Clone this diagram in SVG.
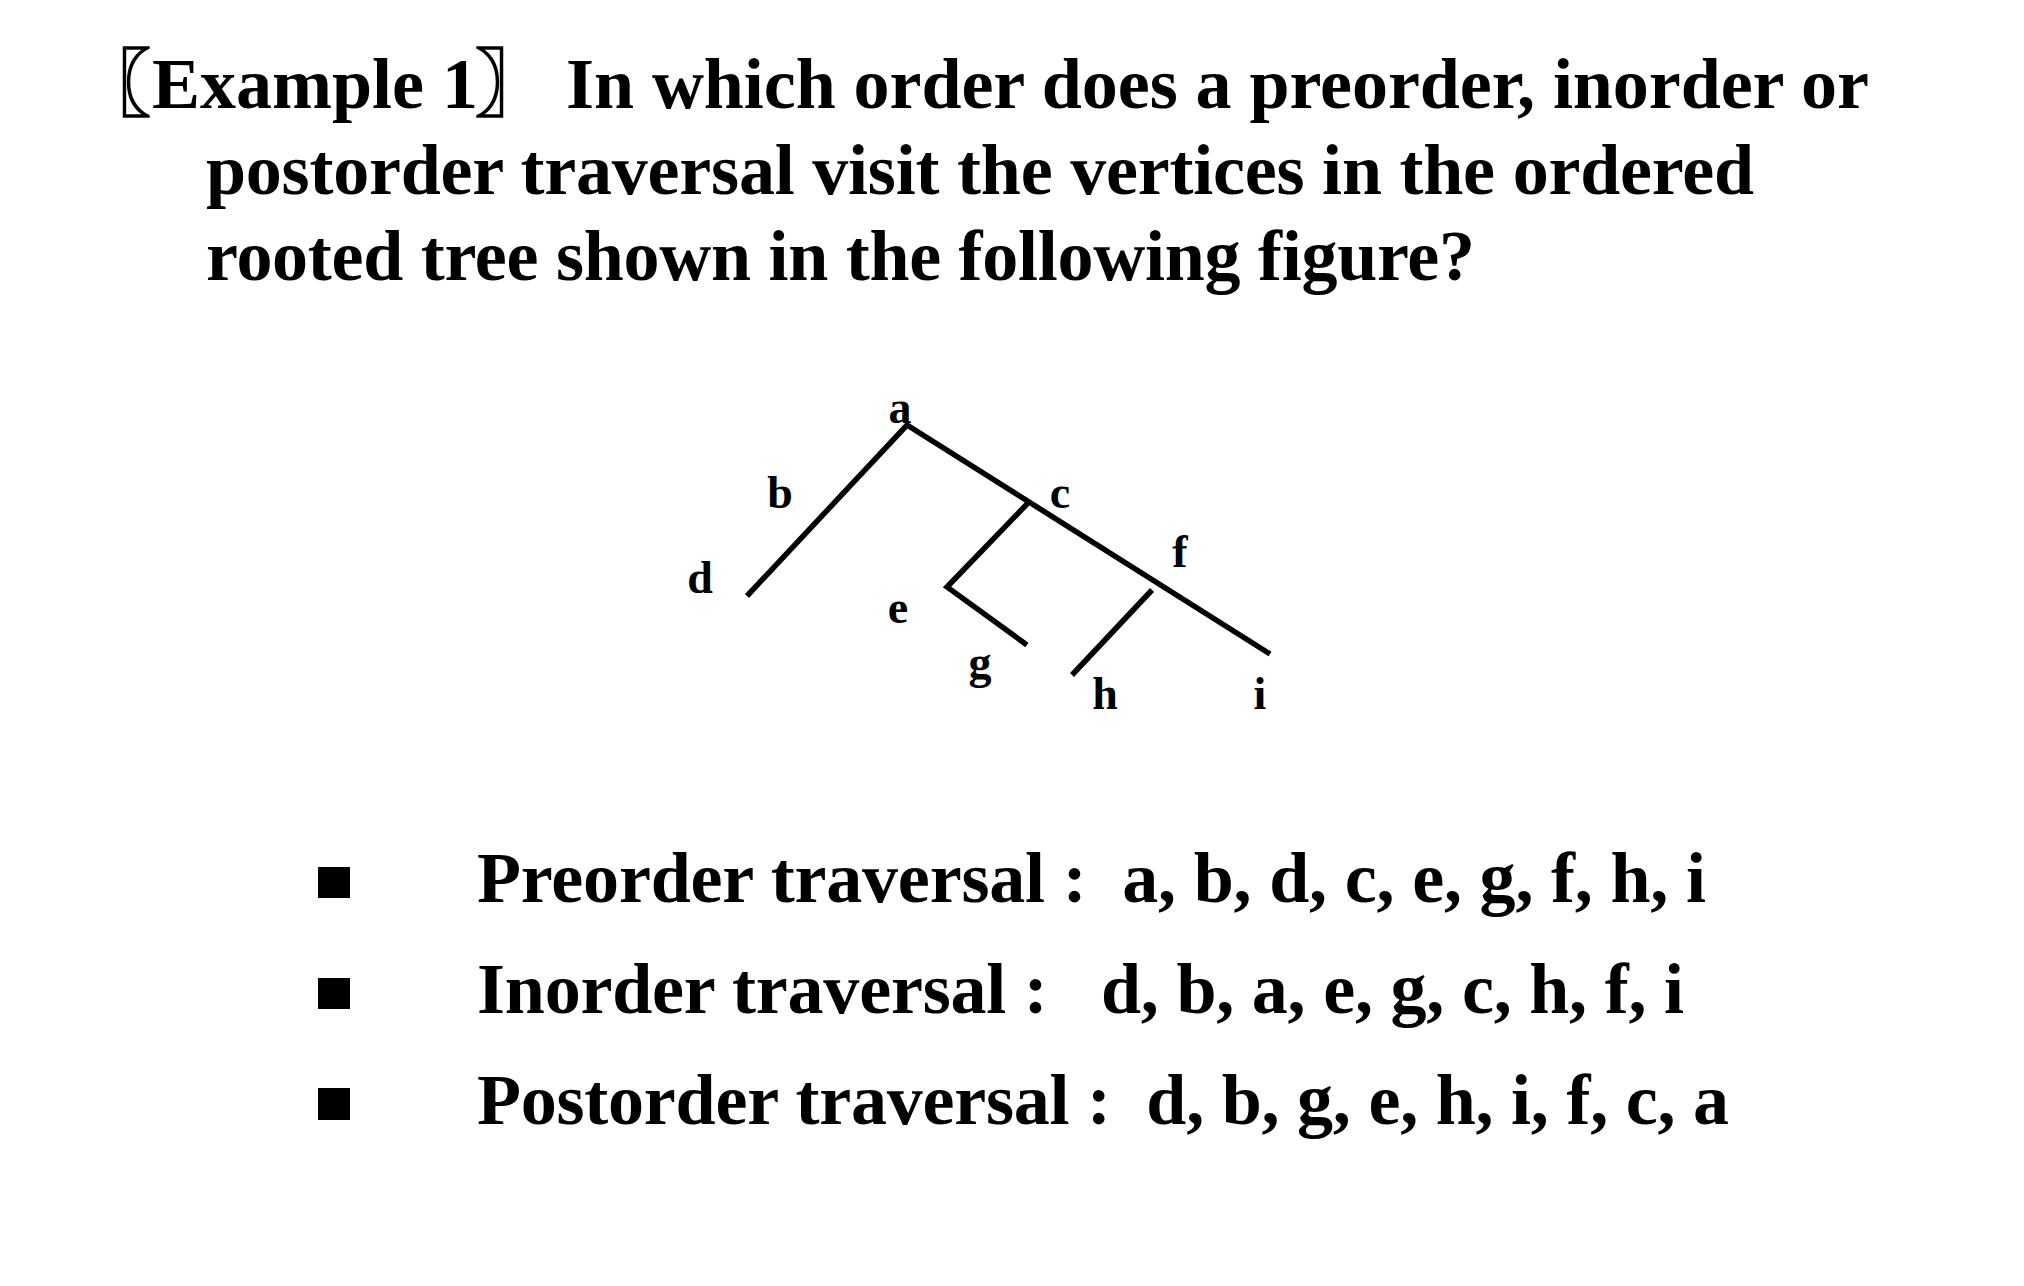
<svg xmlns="http://www.w3.org/2000/svg" width="2024" height="1286" viewBox="0 0 2024 1286">
<style>
  .t { font-family: "Liberation Serif", "Times New Roman", "Noto Sans CJK SC", serif; font-weight: bold; fill: #000; }
  .title { font-size: 72px; }
  .br { font-family: "Noto Sans CJK SC", "Noto Sans CJK JP", serif; font-size: 74px; font-weight: bold; fill: #000; stroke: #000; stroke-width: 1.6; }
  .list { font-size: 72px; }
  .lbl { font-size: 46px; text-anchor: middle; }
  .edge { fill: none; stroke: #000; stroke-width: 5.5; stroke-linecap: butt; stroke-linejoin: miter; }
</style>
<rect width="2024" height="1286" fill="#fff"/>

<g id="title">
  <text class="br" x="77" y="110">〖</text>
  <text class="t title" x="152" y="108">Example 1</text>
  <text class="br" x="475" y="110">〗</text>
  <text class="t title" x="566" y="108" textLength="1303">In which order does a preorder, inorder or</text>
  <text class="t title" x="206" y="194" textLength="1548">postorder traversal visit the vertices in the ordered</text>
  <text class="t title" x="206" y="280" textLength="1269">rooted tree shown in the following figure?</text>
</g>

<g id="connectors">
  <polyline class="edge" points="747,596 907,425 1270,654"/>
  <polyline class="edge" points="1028,503 947,587 1027,645"/>
  <line class="edge" x1="1152" y1="590" x2="1072" y2="675"/>
</g>

<g id="node-a"><text class="t lbl" x="900" y="423">a</text></g>
<g id="node-b"><text class="t lbl" x="780" y="508">b</text></g>
<g id="node-c"><text class="t lbl" x="1060" y="508">c</text></g>
<g id="node-d"><text class="t lbl" x="700" y="593">d</text></g>
<g id="node-e"><text class="t lbl" x="898" y="623">e</text></g>
<g id="node-f"><text class="t lbl" x="1180" y="567">f</text></g>
<g id="node-g"><text class="t lbl" x="980" y="678">g</text></g>
<g id="node-h"><text class="t lbl" x="1105" y="709">h</text></g>
<g id="node-i"><text class="t lbl" x="1260" y="709">i</text></g>

<g id="list">
  <rect x="318" y="867" width="32" height="31" fill="#000"/>
  <rect x="318" y="978" width="32" height="31" fill="#000"/>
  <rect x="318" y="1088" width="32" height="32" fill="#000"/>
  <text class="t list" x="477" y="902" xml:space="preserve" textLength="1229">Preorder traversal :  a, b, d, c, e, g, f, h, i</text>
  <text class="t list" x="477" y="1013" xml:space="preserve" textLength="1207">Inorder traversal :   d, b, a, e, g, c, h, f, i</text>
  <text class="t list" x="477" y="1124" xml:space="preserve" textLength="1252">Postorder traversal :  d, b, g, e, h, i, f, c, a</text>
</g>
</svg>
